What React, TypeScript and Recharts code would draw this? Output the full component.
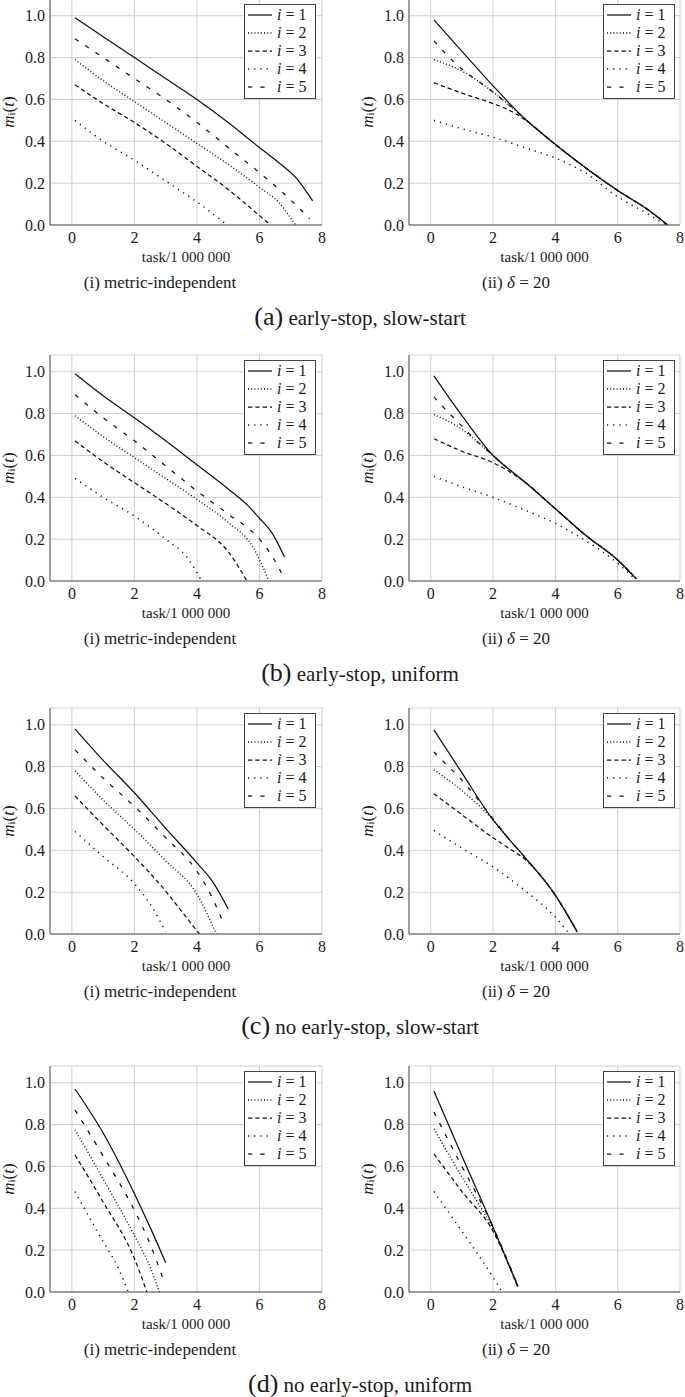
import React from 'react';
import { LineChart, Line, XAxis, YAxis, CartesianGrid, Legend } from 'recharts';

type Pt = [number, number];

// ---------- data: x = task / 1 000 000, y = m_i(t) ----------
// (a) early-stop, slow-start — (i) metric-independent
const A1_1: Pt[] = [[0.1, 0.99], [1, 0.9], [2, 0.8], [3, 0.7], [4, 0.6], [5, 0.49], [6, 0.37], [6.6, 0.3], [7.2, 0.22], [7.7, 0.115]];
const A1_2: Pt[] = [[0.1, 0.79], [1, 0.69], [2, 0.59], [3, 0.49], [4, 0.39], [5, 0.29], [6, 0.18], [6.6, 0.11], [7.15, 0.0]];
const A1_3: Pt[] = [[0.1, 0.67], [1, 0.58], [2, 0.49], [3, 0.39], [4, 0.28], [5, 0.17], [5.8, 0.07], [6.35, 0.0]];
const A1_4: Pt[] = [[0.1, 0.5], [1, 0.4], [2, 0.31], [3, 0.21], [4, 0.11], [4.97, 0.0]];
const A1_5: Pt[] = [[0.1, 0.89], [1, 0.8], [2, 0.7], [3, 0.6], [4, 0.49], [5, 0.37], [6, 0.25], [7, 0.12], [7.6, 0.03]];
// (a) — (ii) delta = 20
const A2_1: Pt[] = [[0.1, 0.98], [1, 0.83], [2, 0.665], [2.5, 0.585], [3, 0.51], [4, 0.385], [5, 0.27], [6, 0.165], [7, 0.07], [7.6, 0.0]];
const A2_2: Pt[] = [[0.1, 0.79], [1, 0.735], [1.5, 0.69], [2, 0.635], [2.5, 0.575], [3, 0.51], [4, 0.385], [5, 0.27], [6, 0.165], [7, 0.07], [7.6, 0.0]];
const A2_3: Pt[] = [[0.1, 0.68], [1, 0.63], [2, 0.58], [2.5, 0.55], [3, 0.505], [4, 0.385], [5, 0.27], [6, 0.165], [7, 0.07], [7.6, 0.0]];
const A2_4: Pt[] = [[0.1, 0.5], [1, 0.46], [2, 0.42], [3, 0.37], [4, 0.32], [5, 0.245], [6, 0.135], [7, 0.05], [7.55, 0.0]];
const A2_5: Pt[] = [[0.1, 0.88], [0.5, 0.815], [1, 0.745], [1.5, 0.69], [2, 0.635], [2.5, 0.575], [3, 0.51], [4, 0.385], [5, 0.27], [6, 0.165], [7, 0.07], [7.6, 0.0]];
// (b) early-stop, uniform — (i)
const B1_1: Pt[] = [[0.1, 0.99], [1, 0.885], [2, 0.78], [3, 0.67], [4, 0.555], [5, 0.44], [5.6, 0.365], [6, 0.3], [6.4, 0.23], [6.8, 0.115]];
const B1_2: Pt[] = [[0.1, 0.79], [1, 0.69], [2, 0.59], [3, 0.49], [4, 0.39], [5, 0.28], [5.8, 0.16], [6.3, 0.0]];
const B1_3: Pt[] = [[0.1, 0.67], [1, 0.57], [2, 0.47], [3, 0.37], [4, 0.265], [5, 0.14], [5.6, 0.0]];
const B1_4: Pt[] = [[0.1, 0.49], [1, 0.4], [2, 0.31], [3, 0.2], [3.7, 0.11], [4.15, 0.0]];
const B1_5: Pt[] = [[0.1, 0.89], [1, 0.78], [2, 0.67], [3, 0.55], [4, 0.43], [5, 0.32], [6, 0.2], [6.4, 0.12], [6.8, 0.01]];
// (b) — (ii)
const B2_1: Pt[] = [[0.1, 0.98], [1, 0.79], [2, 0.6], [2.5, 0.535], [3, 0.475], [4, 0.345], [5, 0.215], [6, 0.1], [6.6, 0.01]];
const B2_2: Pt[] = [[0.1, 0.795], [1, 0.725], [1.5, 0.665], [2, 0.6], [2.5, 0.535], [3, 0.475], [4, 0.345], [5, 0.215], [6, 0.1], [6.6, 0.01]];
const B2_3: Pt[] = [[0.1, 0.68], [1, 0.62], [2, 0.565], [2.5, 0.525], [3, 0.475], [4, 0.345], [5, 0.215], [6, 0.1], [6.6, 0.01]];
const B2_4: Pt[] = [[0.1, 0.5], [1, 0.45], [2, 0.4], [3, 0.34], [4, 0.275], [5, 0.19], [6, 0.085], [6.55, 0.01]];
const B2_5: Pt[] = [[0.1, 0.88], [0.5, 0.815], [1, 0.74], [1.5, 0.665], [2, 0.6], [2.5, 0.535], [3, 0.475], [4, 0.345], [5, 0.215], [6, 0.1], [6.6, 0.01]];
// (c) no early-stop, slow-start — (i)
const C1_1: Pt[] = [[0.1, 0.98], [1, 0.83], [2, 0.675], [3, 0.505], [4, 0.34], [4.5, 0.25], [5.0, 0.12]];
const C1_2: Pt[] = [[0.1, 0.78], [1, 0.64], [2, 0.5], [3, 0.35], [4, 0.19], [4.62, 0.0]];
const C1_3: Pt[] = [[0.1, 0.66], [1, 0.52], [2, 0.37], [3, 0.205], [3.5, 0.11], [4.08, 0.0]];
const C1_4: Pt[] = [[0.1, 0.49], [1, 0.37], [2, 0.24], [2.6, 0.12], [3.0, 0.01]];
const C1_5: Pt[] = [[0.1, 0.88], [1, 0.745], [2, 0.61], [3, 0.46], [4, 0.3], [4.5, 0.17], [4.85, 0.05]];
// (c) — (ii)
const C2_1: Pt[] = [[0.1, 0.975], [1, 0.77], [2, 0.545], [2.5, 0.455], [3, 0.37], [4, 0.185], [4.7, 0.01]];
const C2_2: Pt[] = [[0.1, 0.785], [1, 0.685], [1.5, 0.62], [2, 0.545], [2.5, 0.455], [3, 0.37], [4, 0.185], [4.7, 0.01]];
const C2_3: Pt[] = [[0.1, 0.67], [1, 0.57], [2, 0.46], [2.5, 0.41], [3, 0.36], [4, 0.185], [4.7, 0.01]];
const C2_4: Pt[] = [[0.1, 0.495], [1, 0.41], [2, 0.32], [3, 0.21], [4, 0.08], [4.4, 0.01]];
const C2_5: Pt[] = [[0.1, 0.87], [0.5, 0.81], [1, 0.735], [1.5, 0.645], [2, 0.55], [2.5, 0.455], [3, 0.37], [4, 0.185], [4.7, 0.01]];
// (d) no early-stop, uniform — (i)
const D1_1: Pt[] = [[0.1, 0.97], [1, 0.76], [2, 0.47], [2.5, 0.31], [3.0, 0.14]];
const D1_2: Pt[] = [[0.1, 0.775], [1, 0.54], [2, 0.27], [2.5, 0.12], [2.8, 0.0]];
const D1_3: Pt[] = [[0.1, 0.655], [1, 0.43], [2, 0.16], [2.4, 0.0]];
const D1_4: Pt[] = [[0.1, 0.48], [1, 0.24], [1.5, 0.11], [1.8, 0.0]];
const D1_5: Pt[] = [[0.1, 0.87], [1, 0.65], [2, 0.39], [2.5, 0.23], [2.9, 0.07]];
// (d) — (ii)
const D2_1: Pt[] = [[0.1, 0.96], [1, 0.65], [2, 0.31], [2.8, 0.025]];
const D2_2: Pt[] = [[0.1, 0.78], [1, 0.55], [1.5, 0.43], [2, 0.3], [2.8, 0.025]];
const D2_3: Pt[] = [[0.1, 0.66], [1, 0.48], [2, 0.29], [2.8, 0.02]];
const D2_4: Pt[] = [[0.1, 0.48], [1, 0.29], [2, 0.07], [2.25, 0.01]];
const D2_5: Pt[] = [[0.1, 0.86], [1, 0.6], [1.5, 0.46], [2, 0.31], [2.8, 0.025]];

const SERIES_NAMES = ['1', '2', '3', '4', '5'];
const X_TICKS = [0, 2, 4, 6, 8];
const Y_TICKS = [0, 0.2, 0.4, 0.6, 0.8, 1.0];
const X_AXIS_LABEL = 'task/1 000 000';
const SUB_LEFT = 'metric-independent';
const ROW_LETTERS = ['a', 'b', 'c', 'd'];
const ROW_TITLES = ['early-stop, slow-start', 'early-stop, uniform', 'no early-stop, slow-start', 'no early-stop, uniform'];

const ROWS: Pt[][][][] = [
  [[A1_1, A1_2, A1_3, A1_4, A1_5], [A2_1, A2_2, A2_3, A2_4, A2_5]],
  [[B1_1, B1_2, B1_3, B1_4, B1_5], [B2_1, B2_2, B2_3, B2_4, B2_5]],
  [[C1_1, C1_2, C1_3, C1_4, C1_5], [C2_1, C2_2, C2_3, C2_4, C2_5]],
  [[D1_1, D1_2, D1_3, D1_4, D1_5], [D2_1, D2_2, D2_3, D2_4, D2_5]],
];

// ---------- styling / layout ----------
const SERIF = '"Liberation Serif", "Times New Roman", "DejaVu Serif", serif';
const INK = '#1a1a1a';
const LINE = '#111';
const DASHES: (string | undefined)[] = [undefined, '1 2.2', '4.3 3', '1.2 5', '4.3 8'];
const WIDTHS = [1.25, 1.4, 1.25, 1.5, 1.25];
const PLOT_H = 226;
const TOP_M = 5;
const XAXIS_H = 45;
const YAXIS_W = 50;
const ROW_PLOT_TOP = [-1, 355, 708, 1066];
const COLS = [
  { left: 0, width: 340, right: 18 },
  { left: 359, width: 326, right: 5 },
];

const XAxisLabel = (props: any) => {
  const vb = props.viewBox || {};
  const x = (vb.x ?? YAXIS_W) + (vb.width ?? 272) / 2;
  const y = (vb.y ?? TOP_M + PLOT_H) + 37;
  return (
    <text x={x} y={y} textAnchor="middle" fontFamily={SERIF} fontSize={15} fill={INK}>
      {X_AXIS_LABEL}
    </text>
  );
};

const YAxisLabel = (props: any) => {
  const vb = props.viewBox || {};
  const cx = (vb.x ?? 0) + 8;
  const cy = (vb.y ?? TOP_M) + (vb.height ?? PLOT_H) / 2;
  return (
    <text
      x={cx}
      y={cy}
      transform={`rotate(-90 ${cx} ${cy})`}
      textAnchor="middle"
      dominantBaseline="central"
      fontFamily={SERIF}
      fontSize={17}
      fill={INK}
    >
      <tspan fontStyle="italic">m</tspan>
      <tspan fontSize={11} dy={3}>i</tspan>
      <tspan dy={-3}>(</tspan>
      <tspan fontStyle="italic">t</tspan>
      <tspan>)</tspan>
    </text>
  );
};

const LegendBox = () => (
  <div
    style={{
      width: 72,
      height: 95,
      boxSizing: 'border-box',
      border: '1px solid #444',
      background: '#fff',
      paddingTop: 1,
      fontFamily: SERIF,
      fontSize: 16,
      color: INK,
    }}
  >
    {SERIES_NAMES.map((name, i) => (
      <div key={name} style={{ height: 18, display: 'flex', alignItems: 'center', paddingLeft: 3 }}>
        <svg width={24} height={4} style={{ display: 'block' }}>
          <line x1={0} y1={2} x2={24} y2={2} stroke={LINE} strokeWidth={WIDTHS[i]} strokeDasharray={DASHES[i]} />
        </svg>
        <span style={{ marginLeft: 5, whiteSpace: 'nowrap', lineHeight: 1 }}>
          <i>i</i> = {name}
        </span>
      </div>
    ))}
  </div>
);

function Panel({ series, col, plotTop }: { series: Pt[][]; col: number; plotTop: number }) {
  const c = COLS[col];
  const tickStyle = { fontSize: 16, fill: INK, fontFamily: SERIF };
  return (
    <div style={{ position: 'absolute', left: c.left, top: plotTop - TOP_M, fontFamily: SERIF }}>
      <LineChart
        width={c.width}
        height={TOP_M + PLOT_H + XAXIS_H}
        margin={{ top: TOP_M, right: c.right, bottom: 0, left: 0 }}
        style={{ fontFamily: SERIF }}
      >
        <CartesianGrid stroke="#cfcfcf" strokeWidth={1} />
        <XAxis
          type="number"
          dataKey="x"
          domain={[-0.7, 8]}
          ticks={X_TICKS}
          allowDataOverflow
          height={XAXIS_H}
          tickLine={false}
          tickSize={4}
          tickMargin={3}
          axisLine={{ stroke: '#555' }}
          tick={tickStyle}
          label={{ content: XAxisLabel }}
        />
        <XAxis
          xAxisId="top"
          orientation="top"
          type="number"
          domain={[-0.7, 8]}
          height={0}
          tick={false}
          tickLine={false}
          axisLine={{ stroke: '#555' }}
        />
        <YAxis
          type="number"
          domain={[0, 1.08]}
          ticks={Y_TICKS}
          allowDataOverflow
          width={YAXIS_W}
          tickLine={false}
          tickSize={3}
          tickMargin={2}
          axisLine={{ stroke: '#555' }}
          tickFormatter={(v: number) => v.toFixed(1)}
          tick={tickStyle}
          label={{ content: YAxisLabel }}
        />
        <YAxis
          yAxisId="right"
          orientation="right"
          type="number"
          domain={[0, 1.08]}
          width={0}
          tick={false}
          tickLine={false}
          axisLine={{ stroke: '#555' }}
        />
        {series.map((s, i) => (
          <Line
            key={i}
            data={s.map(([x, y]) => ({ x, y }))}
            dataKey="y"
            type="monotone"
            stroke={LINE}
            strokeWidth={WIDTHS[i]}
            strokeDasharray={DASHES[i]}
            dot={false}
            activeDot={false}
            isAnimationActive={false}
          />
        ))}
        <Legend
          content={LegendBox}
          layout="horizontal"
          verticalAlign="middle"
          align="center"
          wrapperStyle={{ left: 244, top: TOP_M + 5, width: 72, height: 95 }}
        />
      </LineChart>
    </div>
  );
}

const captionStyle = (cx: number, cy: number): React.CSSProperties => ({
  position: 'absolute',
  left: cx,
  top: cy,
  transform: 'translate(-50%, -50%)',
  whiteSpace: 'nowrap',
  lineHeight: 1,
  fontFamily: SERIF,
  color: INK,
});

export default function App() {
  return (
    <div
      style={{
        position: 'absolute',
        left: 0,
        top: 0,
        width: 685,
        height: 1397,
        background: '#fff',
        overflow: 'hidden',
        fontFamily: SERIF,
      }}
    >
      {ROWS.map((row, r) => {
        const top = ROW_PLOT_TOP[r];
        const bottom = top + PLOT_H;
        return (
          <React.Fragment key={r}>
            <Panel series={row[0]} col={0} plotTop={top} />
            <Panel series={row[1]} col={1} plotTop={top} />
            <div style={{ ...captionStyle(160, bottom + 57), fontSize: 17 }}>(i) {SUB_LEFT}</div>
            <div style={{ ...captionStyle(516, bottom + 57), fontSize: 17 }}>
              (ii) <i>δ</i> = 20
            </div>
            <div style={{ ...captionStyle(360, bottom + 92), fontSize: 21 }}>
              <span style={{ fontSize: 26 }}>({ROW_LETTERS[r]})</span> {ROW_TITLES[r]}
            </div>
          </React.Fragment>
        );
      })}
    </div>
  );
}
